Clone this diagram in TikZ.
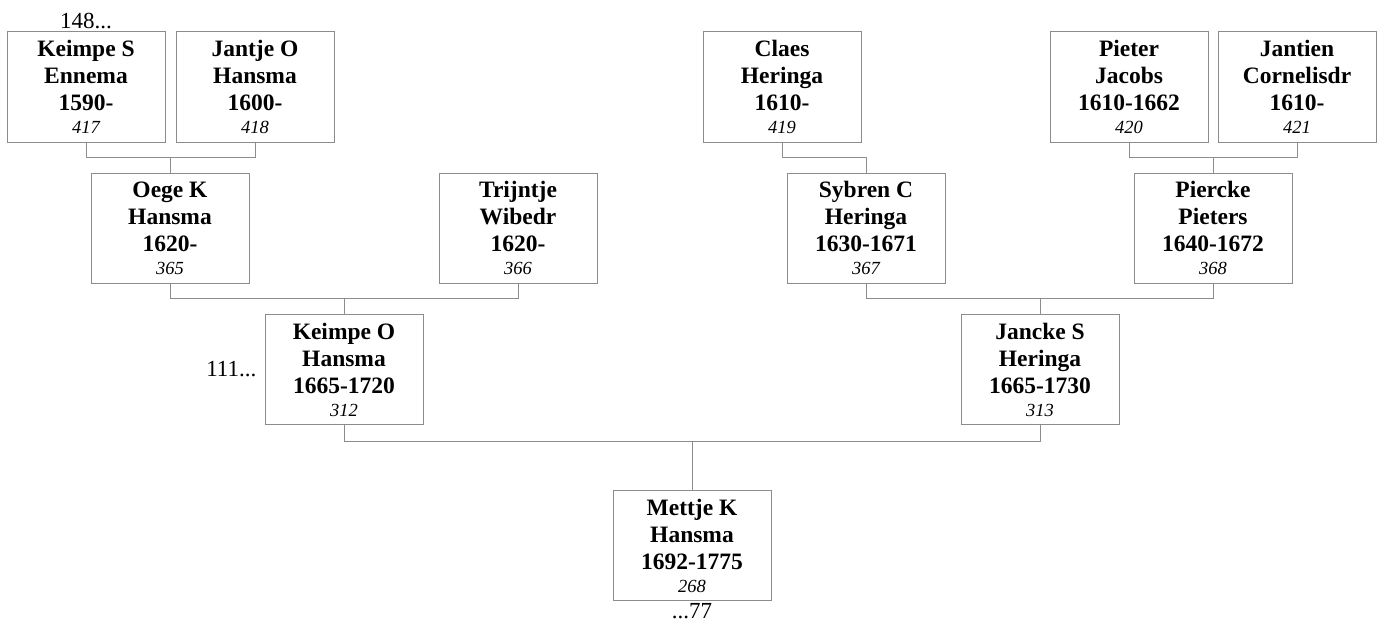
\documentclass[tikz,border=0pt]{standalone}
\usepackage{fontspec}
\setmainfont{Liberation Serif}
\usetikzlibrary{positioning}
\definecolor{linegray}{RGB}{140,140,140}
\tikzset{
  person/.style={draw=linegray,line width=1pt,fill=white,inner sep=0pt,
    minimum width=158pt,minimum height=110pt,align=center,
    font=\fontsize{23.5}{27}\selectfont\bfseries},
  link/.style={draw=linegray,line width=1pt},
  more/.style={inner sep=1pt,font=\fontsize{23}{27}\selectfont}
}
\newcommand{\pnum}[1]{{\fontsize{18.5}{22}\selectfont\mdseries\itshape #1}}

\begin{document}
\begin{tikzpicture}[x=1pt,y=-1pt]
  \fill[white] (0,0) rectangle (1380,626);
  \useasboundingbox (0,0) rectangle (1380,626);

  % 第一行
  \node[person] (keimpeS) at (86,87) {Keimpe S\\Ennema\\1590-\\[-4pt]\pnum{417}};
  \node[person] (jantjeO) at (255,87) {Jantje O\\Hansma\\1600-\\[-4pt]\pnum{418}};
  \node[person] (claesH) at (782,87) {Claes\\Heringa\\1610-\\[-4pt]\pnum{419}};
  \node[person] (pieterJ) at (1129,87) {Pieter\\Jacobs\\1610-1662\\[-4pt]\pnum{420}};
  \node[person] (jantienC) at (1297,87) {Jantien\\Cornelisdr\\1610-\\[-4pt]\pnum{421}};

  % 第二行
  \node[person] (oegeK) at (170,228) {Oege K\\Hansma\\1620-\\[-4pt]\pnum{365}};
  \node[person] (trijntjeW) at (518,228) {Trijntje\\Wibedr\\1620-\\[-4pt]\pnum{366}};
  \node[person] (sybrenC) at (866,228) {Sybren C\\Heringa\\1630-1671\\[-4pt]\pnum{367}};
  \node[person] (pierckeP) at (1213,228) {Piercke\\Pieters\\1640-1672\\[-4pt]\pnum{368}};

  % 第三行
  \node[person] (keimpeO) at (344,369.5) {Keimpe O\\Hansma\\1665-1720\\[-4pt]\pnum{312}};
  \node[person] (janckeS) at (1040,369.5) {Jancke S\\Heringa\\1665-1730\\[-4pt]\pnum{313}};

  % 第四行
  \node[person] (mettjeK) at (692,545.5) {Mettje K\\Hansma\\1692-1775\\[-4pt]\pnum{268}};

  % 连线
  \draw[link] (keimpeS.south) -- ++(0,15) coordinate (p1) -| (jantjeO.south);
  \draw[link] (oegeK.north) -- (oegeK.north |- p1);
  \draw[link] (claesH.south) -- ++(0,15) -| (sybrenC.north);
  \draw[link] (pieterJ.south) -- ++(0,15) coordinate (p2) -| (jantienC.south);
  \draw[link] (pierckeP.north) -- (pierckeP.north |- p2);

  \draw[link] (oegeK.south) -- ++(0,15) coordinate (p3) -| (trijntjeW.south);
  \draw[link] (keimpeO.north) -- (keimpeO.north |- p3);
  \draw[link] (sybrenC.south) -- ++(0,15) coordinate (p4) -| (pierckeP.south);
  \draw[link] (janckeS.north) -- (janckeS.north |- p4);

  \draw[link] (keimpeO.south) -- ++(0,16) coordinate (p5) -| (janckeS.south);
  \draw[link] (mettjeK.north) -- (mettjeK.north |- p5);

  % 其它
  \node[more,above=1pt of keimpeS] (moreA) {148...};
  \node[more,left=7pt of keimpeO] (moreB) {111...};
  \node[more,below=1pt of mettjeK] (moreC) {...77};
\end{tikzpicture}
\end{document}
